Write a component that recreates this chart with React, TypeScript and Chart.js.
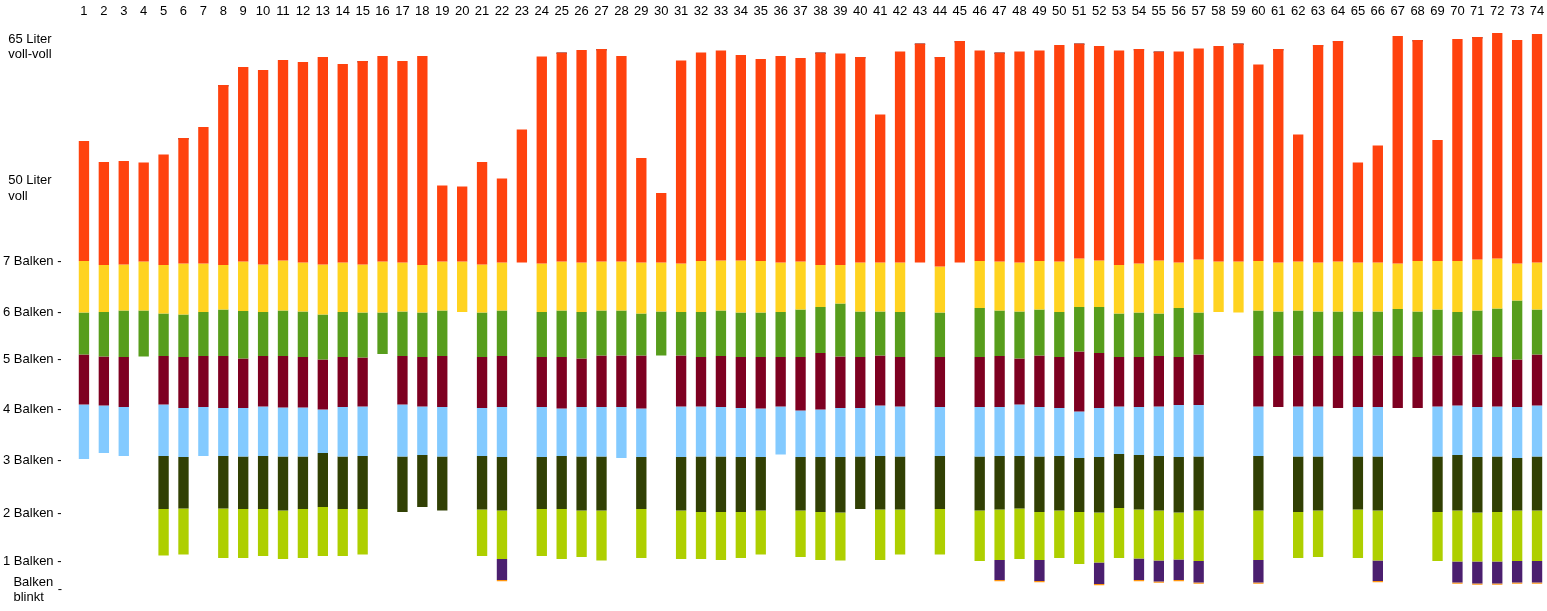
import React, { useEffect, useRef } from 'react';
import { Chart, registerables } from 'chart.js';

Chart.register(...registerables);

const N = null;

const categories = [
  '1', '2', '3', '4', '5', '6', '7', '8', '9', '10',
  '11', '12', '13', '14', '15', '16', '17', '18', '19', '20',
  '21', '22', '23', '24', '25', '26', '27', '28', '29', '30',
  '31', '32', '33', '34', '35', '36', '37', '38', '39', '40',
  '41', '42', '43', '44', '45', '46', '47', '48', '49', '50',
  '51', '52', '53', '54', '55', '56', '57', '58', '59', '60',
  '61', '62', '63', '64', '65', '66', '67', '68', '69', '70',
  '71', '72', '73', '74',
];

// y-axis tick positions (in "Balken" units) and their labels
const TS = '\u2009'; // thin space used to indent some labels
const yTickValues = [0.42, 0.99, 1.96, 3.02, 4.03, 5.03, 5.97, 6.99, 8.45, 11.28];
const yTickLabels: (string | string[])[] = [
  [TS + TS + TS + TS + 'Balken', TS + TS + TS + TS + 'blinkt'],
  '1 Balken -',
  '2 Balken -',
  '3 Balken -',
  '4 Balken -',
  '5 Balken -',
  '6 Balken -',
  '7 Balken -',
  [TS + TS + '50 Liter', TS + TS + 'voll'],
  [TS + TS + '65 Liter', TS + TS + 'voll-voll'],
];

// top of each bar (orange segment top)
const topLevel = [
  9.40, 8.98, 9.00, 8.97, 9.13, 9.46, 9.68, 10.52, 10.88, 10.82,
  11.02, 10.98, 11.08, 10.94, 11.00, 11.10, 11.00, 11.10, 8.51, 8.49,
  8.98, 8.65, 9.63, 11.09, 11.17, 11.22, 11.24, 11.10, 9.06, 8.36,
  11.01, 11.17, 11.21, 11.12, 11.04, 11.10, 11.06, 11.17, 11.15, 11.08,
  9.93, 11.19, 11.35, 11.08, 11.40, 11.21, 11.17, 11.19, 11.21, 11.32,
  11.35, 11.30, 11.21, 11.24, 11.19, 11.19, 11.25, 11.30, 11.35, 10.93,
  11.24, 9.53, 11.32, 11.40, 8.97, 9.31, 11.50, 11.42, 9.42, 11.44,
  11.48, 11.56, 11.42, 11.54,
];

// boundary orange / yellow (7 Balken)
const level7 = [
  7.00, 6.92, 6.93, 6.99, 6.92, 6.95, 6.95, 6.92, 6.99, 6.93,
  7.01, 6.97, 6.93, 6.97, 6.93, 6.99, 6.97, 6.92, 6.99, 6.99,
  6.93, 6.97, 6.97, 6.95, 6.99, 6.97, 6.99, 6.99, 6.97, 6.97,
  6.95, 7.00, 7.01, 7.01, 7.00, 6.97, 6.99, 6.92, 6.92, 6.97,
  6.97, 6.97, 6.97, 6.89, 6.97, 7.00, 6.99, 6.97, 7.00, 6.99,
  7.05, 7.01, 6.92, 6.95, 7.01, 6.97, 7.03, 6.99, 6.99, 7.00,
  6.97, 6.99, 6.97, 6.99, 6.97, 6.97, 6.95, 7.00, 7.00, 7.00,
  7.03, 7.05, 6.95, 6.97,
];

// boundary yellow / green (6 Balken)
const level6 = [
  5.97, 5.98, 6.01, 6.01, 5.95, 5.93, 5.98, 6.03, 6.00, 5.98,
  6.01, 5.99, 5.93, 5.98, 5.97, 5.97, 5.99, 5.97, 6.01, 5.98,
  5.97, 6.01, N, 5.98, 6.01, 5.98, 6.01, 6.01, 5.95, 5.99,
  5.98, 5.98, 6.01, 5.97, 5.97, 5.98, 6.03, 6.08, 6.15, 5.99,
  5.99, 5.98, N, 5.97, N, 6.06, 6.01, 5.99, 6.03, 5.98,
  6.08, 6.08, 5.95, 5.97, 5.95, 6.06, 5.97, 5.98, 5.97, 6.01,
  5.99, 6.01, 5.99, 5.99, 5.99, 5.99, 6.04, 5.99, 6.03, 5.98,
  6.01, 6.05, 6.21, 6.03,
];

// boundary green / maroon (5 Balken)
const level5 = [
  5.13, 5.09, 5.08, 5.09, 5.10, 5.08, 5.10, 5.10, 5.05, 5.10,
  5.10, 5.08, 5.03, 5.08, 5.07, 5.14, 5.10, 5.08, 5.10, N,
  5.08, 5.10, N, 5.08, 5.08, 5.05, 5.11, 5.11, 5.11, 5.11,
  5.11, 5.08, 5.10, 5.08, 5.08, 5.08, 5.08, 5.16, 5.09, 5.08,
  5.11, 5.08, N, 5.08, N, 5.08, 5.10, 5.05, 5.11, 5.08,
  5.19, 5.16, 5.08, 5.08, 5.10, 5.08, 5.13, N, N, 5.10,
  5.10, 5.11, 5.10, 5.10, 5.10, 5.11, 5.10, 5.08, 5.11, 5.11,
  5.13, 5.08, 5.03, 5.13,
];

// boundary maroon / light blue (4 Balken)
const level4 = [
  4.13, 4.11, 4.08, N, 4.13, 4.06, 4.08, 4.06, 4.06, 4.09,
  4.07, 4.07, 4.03, 4.08, 4.09, N, 4.13, 4.09, 4.08, N,
  4.06, 4.08, N, 4.08, 4.05, 4.08, 4.08, 4.08, 4.05, N,
  4.09, 4.09, 4.08, 4.06, 4.05, 4.09, 4.01, 4.03, 4.06, 4.06,
  4.11, 4.09, N, 4.08, N, 4.08, 4.08, 4.13, 4.08, 4.06,
  3.99, 4.06, 4.09, 4.08, 4.09, 4.12, 4.12, N, N, 4.09,
  4.08, 4.09, 4.09, 4.06, 4.08, 4.08, 4.06, 4.06, 4.09, 4.11,
  4.08, 4.09, 4.08, 4.11,
];

// boundary light blue / dark olive (3 Balken)
const level3 = [
  3.04, 3.16, 3.10, N, 3.10, 3.08, 3.10, 3.10, 3.09, 3.10,
  3.09, 3.09, 3.16, 3.09, 3.10, N, 3.09, 3.12, 3.09, N,
  3.10, 3.08, N, 3.08, 3.10, 3.09, 3.09, 3.06, 3.08, N,
  3.08, 3.09, 3.09, 3.08, 3.08, 3.13, 3.08, 3.08, 3.08, 3.09,
  3.10, 3.09, N, 3.10, N, 3.09, 3.10, 3.10, 3.09, 3.10,
  3.06, 3.08, 3.14, 3.12, 3.10, 3.08, 3.09, N, N, 3.10,
  N, 3.09, 3.09, N, 3.09, 3.09, N, N, 3.09, 3.12,
  3.08, 3.09, 3.06, 3.09,
];

// boundary dark olive / lime (2 Balken)
const level2 = [
  N, N, N, N, 2.04, 2.05, N, 2.05, 2.04, 2.04,
  2.01, 2.04, 2.08, 2.04, 2.04, N, 1.98, 2.08, 2.01, N,
  2.03, 2.01, N, 2.04, 2.04, 2.01, 2.01, N, 2.04, N,
  2.01, 1.98, 1.98, 1.98, 2.01, N, 2.01, 1.98, 1.97, 2.04,
  2.03, 2.03, N, 2.04, N, 2.01, 2.03, 2.05, 1.98, 2.01,
  1.98, 1.97, 2.06, 2.03, 2.01, 1.97, 2.01, N, N, 2.01,
  N, 1.98, 2.01, N, 2.03, 2.01, N, N, 1.98, 2.01,
  1.97, 1.98, 2.01, 2.01,
];

// boundary lime / purple (1 Balken)
const level1 = [
  N, N, N, N, 1.11, 1.13, N, 1.06, 1.06, 1.10,
  1.04, 1.06, 1.10, 1.10, 1.13, N, N, N, N, N,
  1.10, 1.04, N, 1.10, 1.04, 1.08, 1.01, N, 1.06, N,
  1.04, 1.04, 1.02, 1.06, 1.13, N, 1.08, 1.02, 1.01, N,
  1.02, 1.13, N, 1.13, N, 1.00, 1.02, 1.04, 1.02, 1.06,
  0.94, 0.97, 1.06, 1.05, 1.01, 1.03, 1.00, N, N, 1.02,
  N, 1.06, 1.08, N, 1.06, 1.01, N, N, 1.00, 0.99,
  0.99, 0.99, 1.00, 1.00,
];

// bottom of the purple "Balken blinkt" segment
const level0 = [
  N, N, N, N, N, N, N, N, N, N,
  N, N, N, N, N, N, N, N, N, N,
  N, 0.62, N, N, N, N, N, N, N, N,
  N, N, N, N, N, N, N, N, N, N,
  N, N, N, N, N, N, 0.62, N, 0.60, N,
  N, 0.54, N, 0.62, 0.59, 0.62, 0.57, N, N, 0.57,
  N, N, N, N, N, 0.60, N, N, N, 0.57,
  0.55, 0.55, 0.57, 0.57,
];

// bars that carry a thin dark-blue cap on top
const capBars = [6, 8, 15, 25, 27, 38, 40, 43, 44, 45, 47, 51, 54, 55, 59, 61, 63, 64, 68, 71];

const segments = [
  { label: 'über 7 Balken', upper: topLevel, lower: level7, color: '#ff420e' },
  { label: '7 Balken', upper: level7, lower: level6, color: '#ffd320' },
  { label: '6 Balken', upper: level6, lower: level5, color: '#579d1c' },
  { label: '5 Balken', upper: level5, lower: level4, color: '#7e0021' },
  { label: '4 Balken', upper: level4, lower: level3, color: '#83caff' },
  { label: '3 Balken', upper: level3, lower: level2, color: '#314004' },
  { label: '2 Balken', upper: level2, lower: level1, color: '#aecf00' },
  { label: '1 Balken', upper: level1, lower: level0, color: '#4b1f6f' },
];

const FONT_FAMILY = '"Liberation Sans", Arial, Helvetica, sans-serif';

const blinktDashPlugin = {
  id: 'blinktDash',
  afterDraw(chart: any) {
    const y = chart.scales.y;
    const ctx = chart.ctx;
    ctx.save();
    ctx.font = `13px ${FONT_FAMILY}`;
    ctx.fillStyle = '#000';
    ctx.textAlign = 'right';
    ctx.textBaseline = 'middle';
    ctx.fillText('-', 62, y.getPixelForValue(yTickValues[0]) - 1);
    ctx.restore();
  },
};

export default function App() {
  const canvasRef = useRef<HTMLCanvasElement | null>(null);

  useEffect(() => {
    const canvas = canvasRef.current;
    if (!canvas) return;

    const datasets: any[] = segments.map((s) => ({
      label: s.label,
      data: categories.map((_, i) =>
        s.upper[i] != null && s.lower[i] != null ? [s.lower[i], s.upper[i]] : null
      ),
      backgroundColor: s.color,
      borderWidth: 0,
    }));

    datasets.push({
      label: 'Kappe',
      data: categories.map((_, i) =>
        capBars.includes(i + 1) ? [topLevel[i] - 0.03, topLevel[i]] : null
      ),
      backgroundColor: '#004586',
      borderWidth: 0,
    });

    datasets.push({
      label: 'Ende',
      data: categories.map((_, i) =>
        level0[i] != null ? [(level0[i] as number) - 0.025, level0[i]] : null
      ),
      backgroundColor: '#ff950e',
      borderWidth: 0,
    });

    const font = { family: FONT_FAMILY, size: 13 };

    const chart = new Chart(canvas, {
      type: 'bar',
      data: { labels: categories, datasets },
      options: {
        animation: false,
        responsive: false,
        maintainAspectRatio: false,
        layout: { padding: { left: 3, right: 0, top: 0, bottom: 0 } },
        plugins: {
          legend: { display: false },
          tooltip: { enabled: false },
        },
        datasets: {
          bar: {
            grouped: false,
            categoryPercentage: 1,
            barPercentage: 0.52,
          },
        },
        scales: {
          x: {
            type: 'category',
            position: 'top',
            offset: true,
            grid: { display: false, drawTicks: false },
            border: { display: false },
            ticks: {
              autoSkip: false,
              maxRotation: 0,
              minRotation: 0,
              padding: 8,
              color: '#000',
              font,
            },
            afterFit: (s: any) => {
              s.height = 27;
              s.paddingLeft = 0;
              s.paddingRight = 0;
            },
          },
          y: {
            type: 'linear',
            min: 0,
            max: 11.68,
            grid: { display: false, drawTicks: false },
            border: { display: false },
            afterBuildTicks: (s: any) => {
              s.ticks = yTickValues.map((v) => ({ value: v }));
            },
            ticks: {
              autoSkip: false,
              crossAlign: 'far',
              padding: 12,
              color: '#000',
              font,
              callback: (_v: any, i: number) => yTickLabels[i],
            },
            afterFit: (s: any) => {
              s.width = 71;
              s.paddingTop = 0;
              s.paddingBottom = 0;
            },
          },
        },
      } as any,
      plugins: [blinktDashPlugin],
    });

    return () => chart.destroy();
  }, []);

  return (
    <div
      style={{
        position: 'fixed',
        left: 0,
        top: 0,
        width: 1547,
        height: 611,
        background: '#fff',
      }}
    >
      <canvas ref={canvasRef} width={1547} height={611} style={{ display: 'block' }} />
    </div>
  );
}
